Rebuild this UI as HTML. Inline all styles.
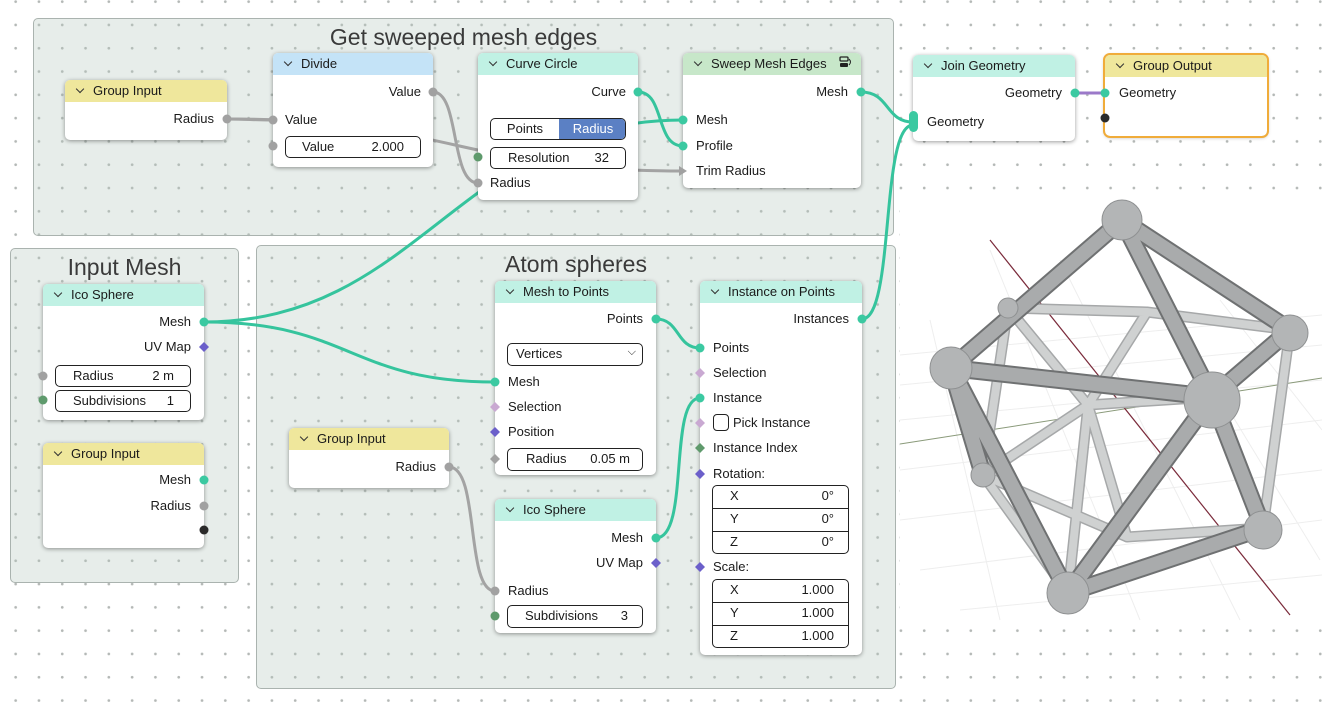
<!DOCTYPE html>
<html><head><meta charset="utf-8"><style>
*{box-sizing:border-box;margin:0;padding:0}
body{width:1322px;height:702px;overflow:hidden;position:relative;background:#fff;font-family:"Liberation Sans","DejaVu Sans",sans-serif;color:#1a1a1a;
background-image:radial-gradient(circle,#b4b8b6 1.1px,transparent 1.6px);background-size:23.3px 23.3px;background-position:4px -10px}
.fr{position:absolute;background:rgba(180,198,190,0.32);border:1px solid #aab3af;border-radius:5px}
.ft{position:absolute;font-size:23px;color:#3a3a3a;text-align:center}
.n{position:absolute;background:#fff;border-radius:5px;box-shadow:0 1px 4px rgba(0,0,0,.4)}
.h{height:22px;border-radius:5px 5px 0 0;font-size:13px;line-height:22px;padding-left:28px;position:relative}
.h:before{content:"";position:absolute;left:12px;top:6px;width:5px;height:5px;border-right:1.3px solid #333;border-bottom:1.3px solid #333;transform:rotate(45deg)}
.y{background:#efe79c}.b{background:#c4e3f7}.t{background:#c0f1e4}.g{background:#c7e7c9}
.l{position:absolute;font-size:13px;line-height:16px;white-space:nowrap}
.r{text-align:right}
.f{position:absolute;border:1.2px solid #222;border-radius:5px;font-size:13px;line-height:20px;background:#fff}
.f span{position:absolute}
svg{position:absolute;left:0;top:0}
</style></head><body>

<div class="fr" style="left:33px;top:18px;width:861px;height:218px"></div>
<div class="ft" style="left:33px;top:24px;width:861px">Get sweeped mesh edges</div>
<div class="fr" style="left:10px;top:248px;width:229px;height:335px"></div>
<div class="ft" style="left:10px;top:254px;width:229px">Input Mesh</div>
<div class="fr" style="left:256px;top:245px;width:640px;height:444px"></div>
<div class="ft" style="left:256px;top:251px;width:640px">Atom spheres</div>

<!-- 3D view -->
<svg width="1322" height="702" style="z-index:0">
<rect x="900" y="190" width="422" height="430" fill="#fff"/>
<g stroke="#eeeeee" stroke-width="1" fill="none">
<path d="M900 470 L1322 420 M900 520 L1322 470 M920 570 L1322 520 M960 610 L1322 575 M900 420 L1322 380 M900 385 L1322 345 M900 355 L1322 315 M990 250 L1140 620 M1060 260 L1240 620 M1150 280 L1320 560 M930 320 L1000 620 M1220 300 L1322 430"/>
</g>
<line x1="900" y1="444" x2="1322" y2="378" stroke="#8a9a7a" stroke-width="1"/>
<line x1="990" y1="240" x2="1290" y2="615" stroke="#7a2a3a" stroke-width="1.2"/>
<g stroke-linecap="round" fill="none">
<g stroke="#a6a8a9" stroke-width="11">
<path d="M1008 308 L1147 312 M1008 308 L983 475 M1147 312 L1088 405 M1088 405 L983 475 M1088 405 L1127 537 M983 475 L1127 537 M1127 537 L1263 528 M1147 312 L1290 330 M1008 308 L1088 405 M1088 405 L1212 397 M1290 330 L1263 528 M983 475 L1068 593 M1088 405 L1068 593"/>
</g>
<g stroke="#cfd1d1" stroke-width="8">
<path d="M1008 308 L1147 312 M1008 308 L983 475 M1147 312 L1088 405 M1088 405 L983 475 M1088 405 L1127 537 M983 475 L1127 537 M1127 537 L1263 528 M1147 312 L1290 330 M1008 308 L1088 405 M1088 405 L1212 397 M1290 330 L1263 528 M983 475 L1068 593 M1088 405 L1068 593"/>
</g>
<g stroke="#6f7172" stroke-width="18">
<path d="M1122 220 L951 368 M1122 220 L1212 397 M1122 220 L1290 330 M951 368 L1212 397 M1212 397 L1290 330 M1212 397 L1263 528 M951 368 L1068 593 M1212 397 L1068 593 M1068 593 L1263 528 M951 368 L983 475"/>
</g>
<g stroke="#a9abac" stroke-width="14">
<path d="M1122 220 L951 368 M1122 220 L1212 397 M1122 220 L1290 330 M951 368 L1212 397 M1212 397 L1290 330 M1212 397 L1263 528 M951 368 L1068 593 M1212 397 L1068 593 M1068 593 L1263 528 M951 368 L983 475"/>
</g>
</g>
<g fill="#b3b5b6" stroke="#8f9192" stroke-width="1">
<circle cx="1008" cy="308" r="10"/><circle cx="983" cy="475" r="12"/>
<circle cx="1122" cy="220" r="20"/><circle cx="1290" cy="333" r="18"/><circle cx="951" cy="368" r="21"/>
<circle cx="1212" cy="400" r="28"/><circle cx="1263" cy="530" r="19"/><circle cx="1068" cy="593" r="21"/>
</g>
</svg>

<!-- wires under nodes -->
<svg width="1322" height="702" style="z-index:1" fill="none" stroke-linecap="round">
<g stroke="#a3a3a3" stroke-width="3">
<path d="M227 119 C250 119 250 120 273 120"/>
<path d="M433 92 C460 92 450 183 478 183"/>
<path d="M227 119 C450 119 460 171 683 171"/>
<path d="M449 467 C480 467 465 591 495 591"/>
</g>
<g stroke="#35c49d" stroke-width="3">
<path d="M204 322 C420 322 460 120 683 120"/>
<path d="M638 92 C665 92 655 146 683 146"/>
<path d="M204 322 C350 322 350 382 495 382"/>
<path d="M656 319 C680 319 676 348 700 348"/>
<path d="M656 538 C690 538 668 398 700 398"/>
<path d="M861 92 C890 92 885 122 913 122"/>
<path d="M862 319 C895 319 880 125 913 125"/>
</g>
<path d="M1075 93 L1105 93" stroke="#9b79c9" stroke-width="3"/>
</svg>

<!-- nodes -->
<div class="n" style="left:65px;top:80px;width:162px;height:60px;z-index:2"><div class="h y">Group Input</div></div>
<div class="n" style="left:273px;top:53px;width:160px;height:114px;z-index:2"><div class="h b">Divide</div></div>
<div class="n" style="left:478px;top:53px;width:160px;height:147px;z-index:2"><div class="h t">Curve Circle</div></div>
<div class="n" style="left:683px;top:53px;width:178px;height:135px;z-index:2"><div class="h g">Sweep Mesh Edges</div></div>
<div class="n" style="left:913px;top:55px;width:162px;height:86px;z-index:2"><div class="h t">Join Geometry</div></div>
<div class="n" style="left:1105px;top:55px;width:162px;height:81px;z-index:2;outline:2px solid #f0ac3a"><div class="h y">Group Output</div></div>
<div class="n" style="left:43px;top:284px;width:161px;height:136px;z-index:2"><div class="h t">Ico Sphere</div></div>
<div class="n" style="left:43px;top:443px;width:161px;height:105px;z-index:2"><div class="h y">Group Input</div></div>
<div class="n" style="left:495px;top:281px;width:161px;height:194px;z-index:2"><div class="h t">Mesh to Points</div></div>
<div class="n" style="left:289px;top:428px;width:160px;height:60px;z-index:2"><div class="h y">Group Input</div></div>
<div class="n" style="left:495px;top:499px;width:161px;height:134px;z-index:2"><div class="h t">Ico Sphere</div></div>
<div class="n" style="left:700px;top:281px;width:162px;height:374px;z-index:2"><div class="h t">Instance on Points</div></div>

<div style="position:absolute;left:0;top:0;z-index:3">
<div class="l r" style="left:100px;width:114px;top:111px">Radius</div>
<div class="l r" style="left:300px;width:121px;top:84px">Value</div>
<div class="l" style="left:285px;top:112px">Value</div>
<div class="f" style="left:285px;top:136px;width:136px;height:22px"><span style="left:16px">Value</span><span style="right:16px">2.000</span></div>
<div class="l r" style="left:500px;width:126px;top:84px">Curve</div>
<div class="f" style="left:490px;top:118px;width:136px;height:22px;overflow:hidden"><span style="left:0;width:68px;text-align:center">Points</span><span style="left:68px;width:68px;height:22px;top:-1px;background:#5b80c4;color:#fff;text-align:center;line-height:22px">Radius</span></div>
<div class="f" style="left:490px;top:147px;width:136px;height:22px"><span style="left:17px">Resolution</span><span style="right:16px">32</span></div>
<div class="l" style="left:490px;top:175px">Radius</div>
<div class="l r" style="left:750px;width:98px;top:84px">Mesh</div>
<div class="l" style="left:696px;top:112px">Mesh</div>
<div class="l" style="left:696px;top:138px">Profile</div>
<div class="l" style="left:696px;top:163px">Trim Radius</div>
<svg width="14" height="12" style="left:838px;top:56px"><rect x="2" y="1" width="8" height="4" rx="1" fill="none" stroke="#222" stroke-width="1.3"/><rect x="2" y="7" width="8" height="4" rx="1" fill="#222"/><path d="M11 3 q3 3 0 6" stroke="#222" fill="none"/></svg>
<div class="l r" style="left:940px;width:122px;top:85px">Geometry</div>
<div class="l" style="left:927px;top:114px">Geometry</div>
<div class="l" style="left:1119px;top:85px">Geometry</div>

<div class="l r" style="left:80px;width:111px;top:314px">Mesh</div>
<div class="l r" style="left:80px;width:111px;top:339px">UV Map</div>
<div class="f" style="left:55px;top:365px;width:136px;height:22px"><span style="left:17px">Radius</span><span style="right:16px">2 m</span></div>
<div class="f" style="left:55px;top:390px;width:136px;height:22px"><span style="left:17px">Subdivisions</span><span style="right:16px">1</span></div>
<div class="l r" style="left:80px;width:111px;top:472px">Mesh</div>
<div class="l r" style="left:80px;width:111px;top:498px">Radius</div>

<div class="l r" style="left:520px;width:123px;top:311px">Points</div>
<div class="f" style="left:507px;top:343px;width:136px;height:23px"><span style="left:8px">Vertices</span><span style="right:6px;top:-2px;font-size:11px">&#x2335;</span></div>
<div class="l" style="left:508px;top:374px">Mesh</div>
<div class="l" style="left:508px;top:399px">Selection</div>
<div class="l" style="left:508px;top:424px">Position</div>
<div class="f" style="left:507px;top:448px;width:136px;height:23px"><span style="left:18px">Radius</span><span style="right:12px">0.05 m</span></div>
<div class="l r" style="left:320px;width:116px;top:459px">Radius</div>
<div class="l r" style="left:520px;width:123px;top:530px">Mesh</div>
<div class="l r" style="left:520px;width:123px;top:555px">UV Map</div>
<div class="l" style="left:508px;top:583px">Radius</div>
<div class="f" style="left:507px;top:605px;width:136px;height:23px"><span style="left:17px">Subdivisions</span><span style="right:14px">3</span></div>

<div class="l r" style="left:720px;width:129px;top:311px">Instances</div>
<div class="l" style="left:713px;top:340px">Points</div>
<div class="l" style="left:713px;top:365px">Selection</div>
<div class="l" style="left:713px;top:390px">Instance</div>
<div style="position:absolute;left:713px;top:414px;width:16px;height:17px;border:1.3px solid #222;border-radius:4px"></div>
<div class="l" style="left:733px;top:415px">Pick Instance</div>
<div class="l" style="left:713px;top:440px">Instance Index</div>
<div class="l" style="left:713px;top:466px">Rotation:</div>
<div class="f" style="left:712px;top:485px;width:137px;height:69px"></div>
<div style="position:absolute;left:712px;top:508px;width:137px;border-top:1px solid #222"></div>
<div style="position:absolute;left:712px;top:531px;width:137px;border-top:1px solid #222"></div>
<div class="l" style="left:730px;top:488px">X</div><div class="l r" style="left:780px;width:54px;top:488px">0°</div>
<div class="l" style="left:730px;top:511px">Y</div><div class="l r" style="left:780px;width:54px;top:511px">0°</div>
<div class="l" style="left:730px;top:534px">Z</div><div class="l r" style="left:780px;width:54px;top:534px">0°</div>
<div class="l" style="left:713px;top:559px">Scale:</div>
<div class="f" style="left:712px;top:579px;width:137px;height:69px"></div>
<div style="position:absolute;left:712px;top:602px;width:137px;border-top:1px solid #222"></div>
<div style="position:absolute;left:712px;top:625px;width:137px;border-top:1px solid #222"></div>
<div class="l" style="left:730px;top:582px">X</div><div class="l r" style="left:780px;width:54px;top:582px">1.000</div>
<div class="l" style="left:730px;top:605px">Y</div><div class="l r" style="left:780px;width:54px;top:605px">1.000</div>
<div class="l" style="left:730px;top:628px">Z</div><div class="l r" style="left:780px;width:54px;top:628px">1.000</div>
</div>

<!-- sockets -->
<svg width="1322" height="702" style="z-index:4">
<g fill="#a1a1a1"><circle cx="227" cy="119" r="4.5"/><circle cx="433" cy="92" r="4.5"/><circle cx="273" cy="120" r="4.5"/><circle cx="273" cy="146" r="4.5"/><circle cx="478" cy="183" r="4.5"/><circle cx="43" cy="376" r="4.5"/><circle cx="204" cy="506" r="4.5"/><circle cx="449" cy="467" r="4.5"/><circle cx="495" cy="591" r="4.5"/></g>
<g fill="#3bc9a1"><circle cx="638" cy="92" r="4.5"/><circle cx="683" cy="120" r="4.5"/><circle cx="683" cy="146" r="4.5"/><circle cx="861" cy="92" r="4.5"/><circle cx="1075" cy="93" r="4.5"/><circle cx="1105" cy="93" r="4.5"/><circle cx="204" cy="322" r="4.5"/><circle cx="204" cy="480" r="4.5"/><circle cx="656" cy="319" r="4.5"/><circle cx="495" cy="382" r="4.5"/><circle cx="656" cy="538" r="4.5"/><circle cx="862" cy="319" r="4.5"/><circle cx="700" cy="348" r="4.5"/><circle cx="700" cy="398" r="4.5"/><rect x="909" y="111" width="9" height="21" rx="4.5"/></g>
<g fill="#5e9a6c"><circle cx="478" cy="157" r="4.5"/><circle cx="43" cy="400" r="4.5"/><circle cx="495" cy="616" r="4.5"/></g>
<g fill="#2a2a2a"><circle cx="1105" cy="118" r="4.5"/><circle cx="204" cy="530" r="4.5"/></g>
<path d="M679 166 L687 171 L679 176 Z" fill="#a1a1a1"/>
<g fill="#6b5fca"><path d="M204 342 l5 5 -5 5 -5 -5z"/><path d="M495 427 l5 5 -5 5 -5 -5z"/><path d="M656 558 l5 5 -5 5 -5 -5z"/><path d="M700 469 l5 5 -5 5 -5 -5z"/><path d="M700 562 l5 5 -5 5 -5 -5z"/></g>
<g fill="#c9a9d2"><path d="M495 402 l5 5 -5 5 -5 -5z"/><path d="M700 368 l5 5 -5 5 -5 -5z"/><path d="M700 418 l5 5 -5 5 -5 -5z"/></g>
<path d="M495 454 l5 5 -5 5 -5 -5z" fill="#a1a1a1"/>
<path d="M700 443 l5 5 -5 5 -5 -5z" fill="#5f9a6c"/>
</svg>
</body></html>
